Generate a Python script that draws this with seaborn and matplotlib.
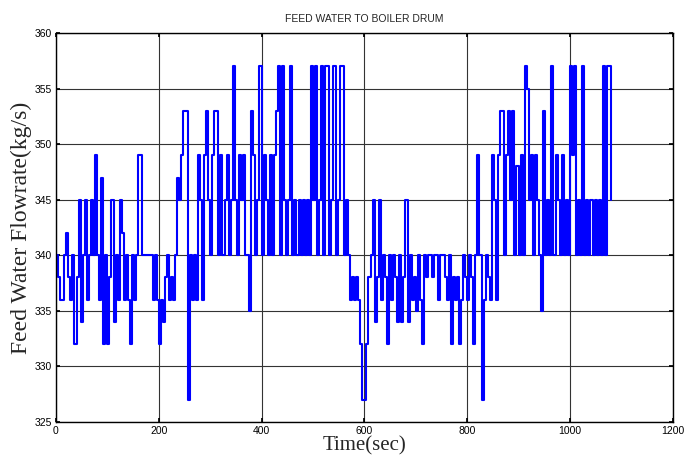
import numpy as np
import pandas as pd
import matplotlib
matplotlib.use("Agg")
import matplotlib.pyplot as plt
import seaborn as sns

# Sampled every 4 s from t = 0 to t = 1080 s
sample_step = 4
flow = [
    340, 338, 336, 336, 340, 342, 338, 336, 340, 332,   # 0-36
    338, 345, 334, 340, 345, 336, 340, 345, 340, 349,   # 40-76
    340, 336, 347, 332, 340, 332, 338, 345, 334, 340,   # 80-116
    336, 345, 342, 336, 340, 336, 332, 340, 336, 340,   # 120-156
    349, 349, 340, 340, 340, 340, 340, 336, 340, 336,   # 160-196
    332, 336, 334, 338, 340, 336, 338, 336, 340, 347,   # 200-236
    345, 349, 353, 353, 327, 340, 336, 340, 336, 349,   # 240-276
    345, 336, 349, 353, 345, 340, 349, 353, 353, 340,   # 280-316
    349, 340, 345, 349, 340, 345, 357, 345, 340, 349,   # 320-356
    345, 349, 340, 340, 335, 353, 349, 340, 345, 357,   # 360-396
    340, 349, 345, 340, 349, 340, 349, 353, 357, 340,   # 400-436
    357, 345, 340, 345, 357, 340, 345, 340, 345, 340,   # 440-476
    345, 340, 345, 340, 357, 345, 357, 340, 345, 357,   # 480-516
    340, 357, 357, 340, 345, 357, 340, 345, 357, 357,   # 520-556
    340, 345, 340, 336, 338, 336, 338, 336, 332, 327,   # 560-596
    327, 332, 338, 340, 345, 334, 338, 345, 336, 340,   # 600-636
    338, 332, 340, 336, 340, 338, 334, 340, 334, 338,   # 640-676
    345, 334, 340, 336, 338, 335, 340, 336, 332, 340,   # 680-716
    338, 340, 340, 338, 340, 340, 336, 340, 340, 338,   # 720-756
    336, 340, 332, 338, 336, 338, 332, 336, 340, 338,   # 760-796
    336, 340, 338, 332, 340, 349, 340, 327, 336, 340,   # 800-836
    338, 336, 349, 345, 336, 349, 353, 353, 340, 349,   # 840-876
    353, 345, 353, 340, 348, 340, 349, 340, 357, 355,   # 880-916
    345, 349, 340, 349, 345, 340, 335, 353, 340, 345,   # 920-956
    340, 357, 340, 349, 345, 340, 349, 340, 345, 340,   # 960-996
    357, 349, 357, 340, 345, 340, 357, 340, 345, 340,   # 1000-1036
    345, 340, 345, 340, 345, 340, 357, 340, 357, 357,   # 1040-1076
    345,                                                # 1080
]
time = np.arange(len(flow)) * sample_step

x_ticks = [0, 200, 400, 600, 800, 1000, 1200]
y_ticks = [325, 330, 335, 340, 345, 350, 355, 360]

df = pd.DataFrame({"Time": time, "Flow": flow})

sns.set_theme(style="ticks")
plt.rcParams["font.family"] = ["Liberation Sans", "DejaVu Sans"]

fig = plt.figure(figsize=(6.86, 4.74), dpi=100)
ax = fig.add_axes([0.0816, 0.110, 0.899, 0.820])

sns.lineplot(data=df, x="Time", y="Flow", ax=ax, color=(0, 0, 1),
             linewidth=1.5, estimator=None, sort=False, drawstyle="steps-post")

ax.set_xlim(0, 1200)
ax.set_ylim(325, 360)
ax.set_xticks(x_ticks)
ax.set_yticks(y_ticks)
ax.tick_params(direction="in", length=3, labelsize=7.5, colors="black",
               top=True, right=True, pad=3)
ax.grid(True, color="#333333", linewidth=0.8, linestyle="-")
ax.set_axisbelow(True)
for sp in ax.spines.values():
    sp.set_color("black")
    sp.set_linewidth(1.0)

ax.set_title("FEED WATER TO BOILER DRUM", fontsize=7.5, pad=8)
ax.set_xlabel("Time(sec)", fontsize=15, family=["Liberation Serif"], labelpad=0)
ax.set_ylabel("Feed Water Flowrate(kg/s)", fontsize=17, family=["Liberation Serif"], labelpad=2)

fig.savefig("out.png", dpi=100, facecolor="white")
